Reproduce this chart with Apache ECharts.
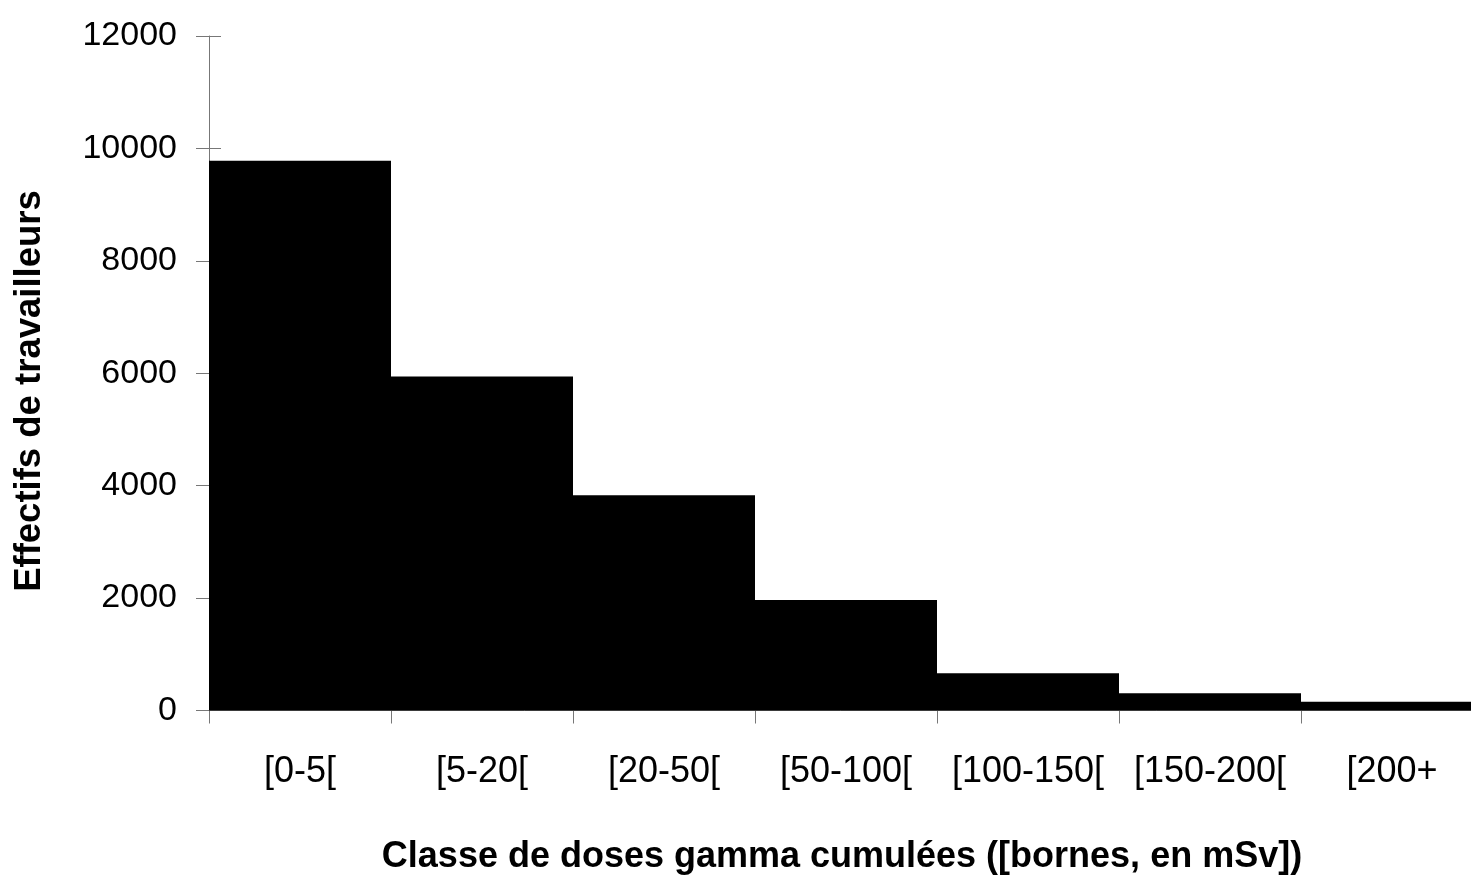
<!DOCTYPE html>
<html>
<head>
<meta charset="utf-8">
<script src="https://cdn.jsdelivr.net/npm/echarts@6/dist/echarts.min.js"></script>
<style>
html,body{margin:0;padding:0;background:#fff;}
#chart{width:1471px;height:893px;}
</style>
</head>
<body>
<div id="chart"></div>
<script>
const categories = ['[0-5[', '[5-20[', '[20-50[', '[50-100[', '[100-150[', '[150-200[', '[200+'];
const counts = [9780, 5940, 3830, 1965, 662, 306, 156];
const yTicks = { min: 0, max: 12000, interval: 2000 };
const xTitle = 'Classe de doses gamma cumulées ([bornes, en mSv])';
const yTitle = 'Effectifs de travailleurs';

const FONT = "'Liberation Sans', Arial, sans-serif";
const AXIS_COLOR = '#777777';

const chart = echarts.init(document.getElementById('chart'), null, { renderer: 'canvas' });
chart.setOption({
  backgroundColor: '#ffffff',
  animation: false,
  grid: { left: 209, top: 36, width: 1274, height: 674.5, containLabel: false, outerBoundsMode: 'none' },
  xAxis: {
    type: 'category',
    data: categories,
    boundaryGap: true,
    axisLine: { show: true, lineStyle: { color: AXIS_COLOR, width: 1 } },
    axisTick: { show: true, inside: false, length: 13, alignWithLabel: false, lineStyle: { color: AXIS_COLOR, width: 1 } },
    axisLabel: { show: true, margin: 44, color: '#000', fontFamily: FONT, fontSize: 36, interval: 0, hideOverlap: false },
    splitLine: { show: false }
  },
  yAxis: [
    {
      type: 'value',
      min: yTicks.min, max: yTicks.max, interval: yTicks.interval,
      axisLine: { show: true, lineStyle: { color: AXIS_COLOR, width: 1 } },
      axisTick: { show: true, inside: false, length: 13, lineStyle: { color: AXIS_COLOR, width: 1 } },
      axisLabel: { show: true, margin: 32, color: '#000', fontFamily: FONT, fontSize: 34, formatter: function (v) { return String(v); } },
      splitLine: { show: false }
    },
    {
      type: 'value',
      position: 'left',
      min: yTicks.min, max: yTicks.max, interval: yTicks.interval,
      axisLine: { show: false },
      axisTick: { show: true, inside: true, length: 12, lineStyle: { color: AXIS_COLOR, width: 1 } },
      axisLabel: { show: false },
      splitLine: { show: false }
    }
  ],
  series: [{
    type: 'bar',
    data: counts,
    yAxisIndex: 0,
    barCategoryGap: '0%',
    barGap: '0%',
    itemStyle: { color: '#000000' },
    z: 1
  }],
  graphic: [
    {
      type: 'text',
      x: 842, y: 857,
      style: { text: xTitle, font: "bold 36px " + FONT, fill: '#000', textAlign: 'center', textVerticalAlign: 'middle' }
    },
    {
      type: 'text',
      x: 30, y: 391,
      rotation: Math.PI / 2,
      style: { text: yTitle, font: "bold 36.5px " + FONT, fill: '#000', textAlign: 'center', textVerticalAlign: 'middle' }
    }
  ]
});
</script>
</body>
</html>
